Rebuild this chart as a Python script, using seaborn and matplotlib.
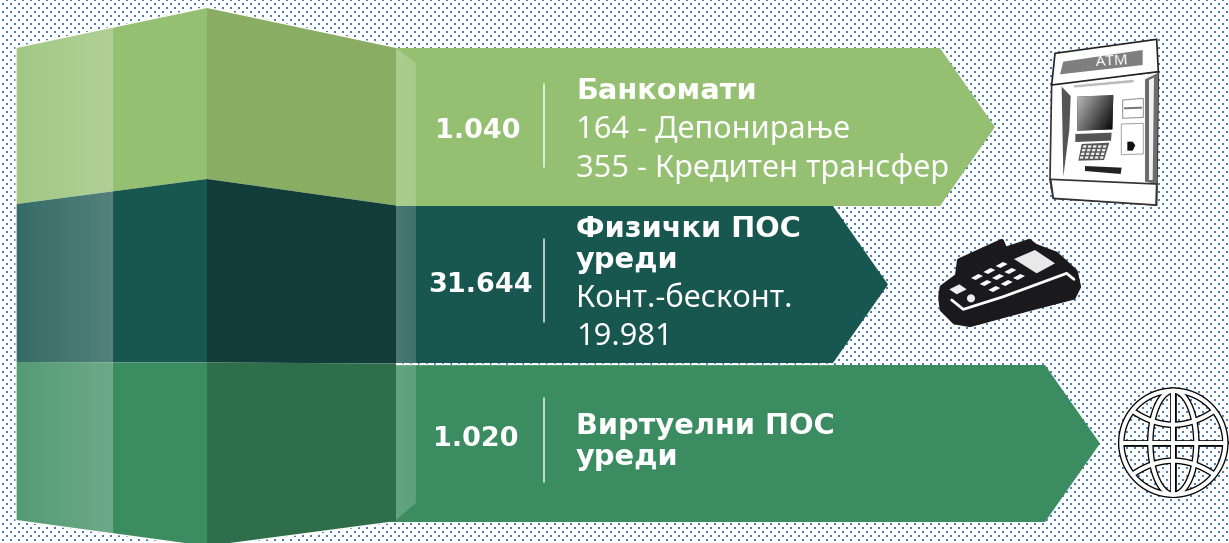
import numpy as np
import matplotlib
matplotlib.use('Agg')
import matplotlib.pyplot as plt
import seaborn as sns
from matplotlib.patches import Polygon, Circle
from matplotlib.colors import ListedColormap

sns.set_theme(style="white")

# ── data ──
totals = ["1.040", "31.644", "1.020"]
titles = [["Банкомати"], ["Физички ПОС", "уреди"], ["Виртуелни ПОС", "уреди"]]
details = [["164 - Депонирање", "355 - Кредитен трансфер"], ["Конт.-бесконт.", "19.981"], []]
base_colors = sns.color_palette(["#95c072", "#185650", "#3b8c60"])
dark_colors = sns.color_palette(["#89ae63", "#113c39", "#2e6e4b"])
DOT = "#4a7ebb"
W, H = 1229, 543

# layout of the bands, in pixels
BLOCK_L, BLOCK_M1, BLOCK_M2, BLOCK_R, STRIP_R = 16.7, 112, 207, 396, 416
left_y = [48, 204, 362, 520]
mid_y = [8, 179, 362.5, 546]
right_y = [48, 205.5, 363.5, 521]
arrows = [(48, 206, 940, 995), (206, 363, 833, 888), (365, 522, 1045, 1100)]
num_pos = [(478, 138), (481, 292), (476, 446)]
div_y = [(84, 167), (239, 322), (398, 482)]
title_base = [[99], [237, 268], [434, 465]]
detail_base = [[138, 177], [307, 345], []]

fig = plt.figure(figsize=(W / 100, H / 100), dpi=100)
ax = fig.add_axes([0, 0, 1, 1])

# fondo de puntos
tile = np.zeros((8, 8))
tile[3:5, 2:4] = 1
tile[7, 6:8] = 1
tile[0, 6:8] = 1
pattern = np.tile(tile, (H // 8 + 1, W // 8 + 1))[:H, :W]
sns.heatmap(pattern, ax=ax, cbar=False, cmap=ListedColormap(["white", DOT]),
            xticklabels=False, yticklabels=False, vmin=0, vmax=1)


def poly(pts, color, z=2, **kw):
    p = Polygon(pts, closed=True, facecolor=color, edgecolor=kw.pop("ec", "none"), zorder=z, **kw)
    ax.add_patch(p)
    return p


def gradient(x0, x1, y0, y1, a0, a1, clip, z):
    g = np.ones((1, 64, 4))
    g[..., 3] = np.linspace(a0, a1, 64)
    im = ax.imshow(g, extent=[x0, x1, y1, y0], aspect="auto", zorder=z, interpolation="bilinear")
    im.set_clip_path(clip)


# halo blanco del bloque
outline = [(BLOCK_L, left_y[0]), (BLOCK_M2, mid_y[0]), (BLOCK_R, right_y[0]), (BLOCK_R, right_y[3]),
           (BLOCK_M2, mid_y[3]), (BLOCK_L, left_y[3])]
poly(outline, "white", z=1.5, ec="white", lw=2)

# flechas
for i, (y0, y1, sx, tx) in enumerate(arrows):
    x0 = BLOCK_R - 6 if i == 2 else BLOCK_R
    poly([(x0, y0), (sx, y0), (tx, (y0 + y1) / 2), (sx, y1), (x0, y1)], base_colors[i], z=2)
ax.plot([BLOCK_R, 833], [364, 364], color="white", lw=1.0, ls=(0, (3, 1)), zorder=2.5)

# caras del bloque
for i in range(3):
    front = [(BLOCK_L, left_y[i]), (BLOCK_M2, mid_y[i]), (BLOCK_M2, mid_y[i + 1]), (BLOCK_L, left_y[i + 1])]
    side = [(BLOCK_M2, mid_y[i]), (BLOCK_R, right_y[i]), (BLOCK_R, right_y[i + 1]), (BLOCK_M2, mid_y[i + 1])]
    poly(front, base_colors[i], z=3)
    poly(side, dark_colors[i], z=3)

block_clip = poly(outline, "none", z=3)
gradient(BLOCK_L, BLOCK_M1, 0, H, 0.13, 0.26, block_clip, 4)

strip = poly([(BLOCK_R, 48), (STRIP_R, 63), (STRIP_R, 503), (BLOCK_R, 520)], "none", z=3)
gradient(BLOCK_R, STRIP_R, 0, H, 0.21, 0.17, strip, 4)

# textos
bold = dict(family="DejaVu Sans", fontweight="bold", color="white", zorder=6)
reg = dict(family="Noto Sans", color="white", zorder=6)
for i in range(3):
    x, y = num_pos[i]
    ax.text(x, y, totals[i], ha="center", va="baseline", fontsize=19.5, **bold)
    ax.plot([544, 544], div_y[i], color="white", lw=1.1, alpha=0.9, zorder=5)
    for line, yb in zip(titles[i], title_base[i]):
        ax.text(576, yb, line, ha="left", va="baseline", fontsize=20.8, **bold)
    for line, yb in zip(details[i], detail_base[i]):
        ax.text(576, yb, line, ha="left", va="baseline", fontsize=22.2, **reg)


# ── iconos ──
def zoom_map(pts, ox, oy, s=3.0):
    return [(ox + px / s, oy + py / s) for px, py in pts]


# bankomat
def atm(pts):
    return zoom_map(pts, 1030, 30)


poly(atm([(65, 160), (385, 125), (380, 525), (70, 505), (60, 450)]), "white", z=5, ec="#333333", lw=1.2)
poly(atm([(95, 170), (122, 198), (118, 300), (100, 440)]), "#555555", z=5.1)
poly(atm([(345, 148), (385, 128), (380, 462), (345, 455)]), "#6e6e6e", z=5.1)
poly(atm([(357, 150), (372, 143), (368, 450), (357, 450)]), "#f2f2f2", z=5.2)
poly(atm([(75, 70), (380, 28), (385, 125), (65, 165)]), "white", z=5.3, ec="#222222", lw=1.2)
poly(atm([(100, 95), (338, 60), (338, 105), (90, 133)]), "#7f7f7f", z=5.4)
ax.text(1112, 62, "ATM", color="white", fontsize=11, family="Noto Sans", ha="center", va="center",
        rotation=3, zorder=5.5)
poly(atm([(130, 165), (312, 148), (312, 158), (132, 174)]), "#bbbbbb", z=5.4, ec="white", lw=0.5)
screen = poly(atm([(142, 200), (250, 195), (247, 298), (142, 302)]), "#333333", z=5.4)
g = np.linspace(0.95, 0.0, 32)[None, :] * np.ones((32, 1)) * 0.5 + np.linspace(0.5, 0, 32)[:, None] * 0.5
im = ax.imshow(g, extent=[1077, 1114, 131, 96], aspect="auto", cmap="gray", vmin=0, vmax=1, zorder=5.45)
im.set_clip_path(screen)
poly(atm([(136, 312), (245, 308), (243, 332), (136, 336)]), "#555555", z=5.4)
poly(atm([(155, 342), (238, 338), (222, 390), (145, 392)]), "#555555", z=5.4)
for r in range(4):
    for c in range(5):
        x0 = 160 - r * 3 + c * 15
        y0 = 346 + r * 11
        poly(atm([(x0, y0), (x0 + 10, y0), (x0 + 8, y0 + 7), (x0 - 2, y0 + 7)]), "#eeeeee", z=5.5)
poly(atm([(165, 408), (275, 413), (272, 432), (165, 423)]), "#222222", z=5.4)
poly(atm([(278, 210), (340, 205), (340, 262), (278, 265)]), "white", z=5.4, ec="#999999", lw=0.8)
poly(atm([(282, 232), (336, 230), (336, 236), (282, 238)]), "#777777", z=5.5)
poly(atm([(274, 282), (340, 280), (340, 372), (274, 374)]), "white", z=5.4, ec="#aaaaaa", lw=0.8)
poly(atm([(292, 335), (308, 335), (316, 346), (308, 362), (292, 362)]), "#111111", z=5.5)
poly(atm([(62, 448), (380, 462), (378, 525), (70, 505)]), "white", z=5.3, ec="#333333", lw=1.2)


# POS
def pos(pts):
    return zoom_map(pts, 920, 230)


poly(pos([(66, 172), (112, 138), (118, 92), (245, 34), (255, 58), (328, 34), (345, 48), (408, 72),
          (466, 125), (476, 170), (460, 202), (320, 238), (150, 284), (104, 276), (66, 238), (62, 200)]),
     "#1a1a1c", z=5, ec="#1a1a1c", lw=3.5, joinstyle="round")
curve = pos([(95, 210), (130, 238), (250, 200), (440, 130), (462, 148)])
ax.plot([p[0] for p in curve], [p[1] for p in curve], color="white", lw=2, zorder=5.2,
        solid_capstyle="round", solid_joinstyle="round")
poly(pos([(282, 87), (345, 60), (405, 100), (350, 130)]), "#e9e9e9", z=5.2)
poly(pos([(88, 178), (118, 163), (140, 178), (110, 193)]), "#eeeeee", z=5.2)
ax.add_patch(Circle(pos([(153, 205)])[0], 3.3, color="#eeeeee", zorder=5.2))
for r in range(3):
    for c in range(3):
        kx = 245 - c * 37 + r * 26
        ky = 105 + c * 18 + r * 18
        poly(pos([(kx - 18, ky + 3), (kx + 4, ky - 9), (kx + 18, ky - 3), (kx - 4, ky + 9)]), "white", z=5.2)

# globo
GX, GY, GR = 1173.3, 442.7, 52
t = np.linspace(0, 2 * np.pi, 200)
lines = [([GX, GX], [GY - GR, GY + GR]), ([GX - GR, GX + GR], [GY, GY]),
         (GX + 23 * np.cos(t), GY + GR * np.sin(t))]
for sgn in (-1, 1):
    xs = np.linspace(-41, 41, 60)
    lines.append((GX + xs, GY + sgn * (18 + 14 * (xs / 41) ** 2)))
for lw, col, z in [(4.8, "black", 5), (2.9, "white", 5.1)]:
    ax.plot(GX + GR * np.cos(t), GY + GR * np.sin(t), color=col, lw=lw, zorder=z)
    for xs, ys in lines:
        ax.plot(xs, ys, color=col, lw=lw, zorder=z, solid_capstyle="butt")

ax.set_xlim(0, W)
ax.set_ylim(H, 0)
ax.set_axis_off()
fig.savefig("out.png", dpi=100)
